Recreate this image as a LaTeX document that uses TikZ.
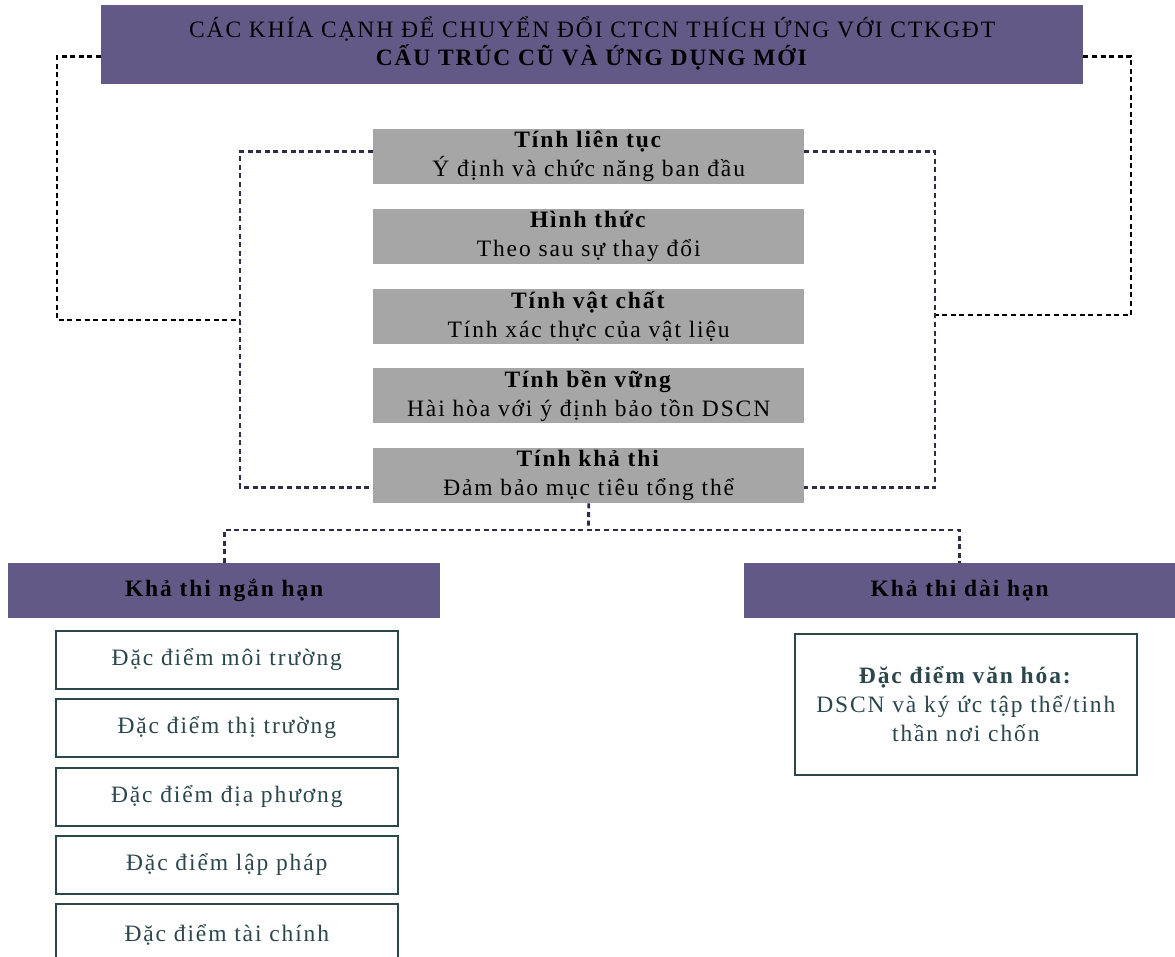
\documentclass[tikz,border=0pt]{standalone}
\usepackage{fontspec}
\setmainfont[LetterSpace=8]{Liberation Serif}
\definecolor{hdrpurple}{HTML}{625987}
\definecolor{boxgrey}{HTML}{A6A6A6}
\definecolor{slate}{HTML}{2B474C}
\definecolor{navydot}{HTML}{2E2C46}
\begin{document}
\begin{tikzpicture}[x=1pt,y=-1pt,
  hdr/.style={fill=hdrpurple, draw=none, inner sep=0pt, align=center, text=black, anchor=north west},
  greybox/.style={fill=boxgrey, draw=none, inner sep=0pt, align=center, text=black, anchor=north west,
    minimum width=431pt, minimum height=55pt, font=\fontsize{23.5}{29}\selectfont},
  itembox/.style={draw=slate, line width=1.6pt, fill=white, inner sep=0pt, align=center, text=slate,
    anchor=north west, minimum width=342pt, font=\fontsize{23.5}{29}\selectfont},
  outerdot/.style={draw=black, line width=2.8pt, dash pattern=on 5pt off 3.6pt},
  innerdot/.style={draw=navydot, line width=2.8pt, dash pattern=on 5pt off 3.6pt}]
\useasboundingbox (0,0) rectangle (1175,957);

% title banner
\node[hdr, minimum width=982pt, minimum height=79pt, font=\fontsize{23.5}{28}\selectfont] (title) at (101,5)
  {CÁC KHÍA CẠNH ĐỂ CHUYỂN ĐỔI CTCN THÍCH ỨNG VỚI CTKGĐT\\ \textbf{CẤU TRÚC CŨ VÀ ỨNG DỤNG MỚI}\\[-20pt]\mbox{}};

% the five criteria
\node[greybox] (c1) at (373,129) {\textbf{Tính liên tục}\\Ý định và chức năng ban đầu};
\node[greybox] (c2) at (373,209) {\textbf{Hình thức}\\Theo sau sự thay đổi};
\node[greybox] (c3) at (373,289) {\textbf{Tính vật chất}\\Tính xác thực của vật liệu};
\node[greybox] (c4) at (373,368) {\textbf{Tính bền vững}\\Hài hòa với ý định bảo tồn DSCN};
\node[greybox] (c5) at (373,448) {\textbf{Tính khả thi}\\Đảm bảo mục tiêu tổng thể};

% feasibility headers
\node[hdr, minimum width=432pt, minimum height=55pt, font=\bfseries\fontsize{23.5}{28}\selectfont] (sl) at (8,563) {Khả thi ngắn hạn};
\node[hdr, minimum width=431pt, minimum height=55pt, font=\bfseries\fontsize{23.5}{28}\selectfont] (sr) at (744,563) {Khả thi dài hạn};

% short-term items
\node[itembox, minimum height=58pt] (s1) at (55,630) {Đặc điểm môi trường};
\node[itembox, minimum height=58pt] (s2) at (55,698) {Đặc điểm thị trường};
\node[itembox, minimum height=58pt] (s3) at (55,767) {Đặc điểm địa phương};
\node[itembox, minimum height=58pt] (s4) at (55,835) {Đặc điểm lập pháp};
\node[itembox, minimum height=62pt] (s5) at (55,903) {Đặc điểm tài chính};

% long-term item
\node[itembox, minimum height=141pt] (l1) at (794,633)
  {\textbf{Đặc điểm văn hóa:}\\DSCN và ký ức tập thể/tinh\\thần nơi chốn};

% junction points
\coordinate (lj) at (240,320);
\coordinate (rj) at (935,315);
\coordinate (split) at (588.5,530);

% outer brackets from the banner
\draw[outerdot] ([yshift=-11.5pt]title.west) -| (57,320) -- (lj);
\draw[outerdot] ([yshift=-11.5pt]title.east) -| (1131,315) -- (rj);

% inner brackets around the criteria
\draw[innerdot] ([yshift=5pt]c1.west) -| (lj) |- ([yshift=-12pt]c5.west);
\draw[innerdot] ([yshift=5pt]c1.east) -| (rj) |- ([yshift=-12pt]c5.east);

% split into short and long term
\draw[innerdot] (c5.south) -- (split);
\draw[innerdot] (sl.north) |- (split) -| (sr.north);
\end{tikzpicture}
\end{document}
